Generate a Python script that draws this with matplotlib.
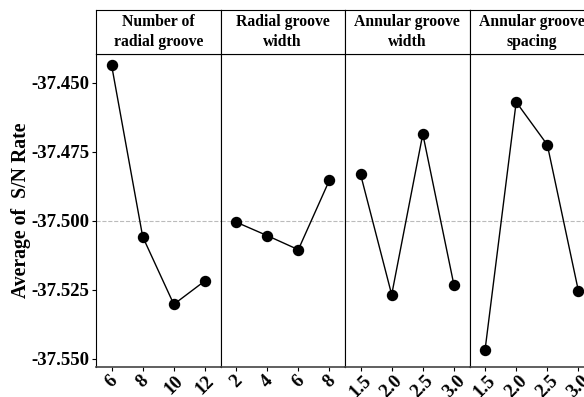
import numpy as np
import matplotlib.pyplot as plt

# main effects of S/N ratio, one panel per factor
factors = ["Number of\nradial groove", "Radial groove\nwidth",
           "Annular groove\nwidth", "Annular groove\nspacing"]
levels = [["6", "8", "10", "12"],
          ["2", "4", "6", "8"],
          ["1.5", "2.0", "2.5", "3.0"],
          ["1.5", "2.0", "2.5", "3.0"]]
sn_radial_num = [-37.4436, -37.5058, -37.5303, -37.5218]
sn_radial_width = [-37.5005, -37.5054, -37.5105, -37.4853]
sn_annular_width = [-37.4832, -37.5268, -37.4686, -37.5233]
sn_annular_spacing = [-37.5468, -37.4570, -37.4725, -37.5255]
series = [sn_radial_num, sn_radial_width, sn_annular_width, sn_annular_spacing]
mean_sn = -37.5
yticks = [-37.450, -37.475, -37.500, -37.525, -37.550]

plt.rcParams['font.family'] = ['Liberation Serif', 'DejaVu Serif']
plt.rcParams['font.weight'] = 'bold'

W, H = 584, 397
fig = plt.figure(figsize=(W / 100, H / 100), dpi=100)

left = 96 / W
pw = 124.5 / W
bot = (H - 366.7) / H
top = (H - 54) / H
hdr_top = (H - 10) / H

for i, (name, lv, vals) in enumerate(zip(factors, levels, series)):
    x0 = left + i * pw
    ax = fig.add_axes([x0, bot, pw, top - bot])
    hx = fig.add_axes([x0, top, pw, hdr_top - top])

    x = np.arange(len(lv))
    ax.axhline(mean_sn, color='#bbbbbb', lw=0.8, ls='--', zorder=1)
    ax.plot(x, vals, color='black', lw=1.0, marker='o', ms=7.2, zorder=3)
    ax.set_xlim(-0.5, len(lv) - 0.5)
    ax.set_ylim(-37.5529, -37.4396)
    ax.set_xticks(x)
    ax.set_xticklabels(lv, rotation=45, ha='center', fontsize=13.5, fontweight='bold')
    ax.tick_params(axis='x', length=3, width=0.8, pad=1)
    for s in ax.spines.values():
        s.set_linewidth(0.8)
        s.set_color('black')
    ax.spines['bottom'].set_color('#444444')
    ax.spines['bottom'].set_linewidth(1.2)
    if i == 0:
        ax.set_yticks(yticks)
        ax.set_yticklabels([f"{v:.3f}" for v in yticks], fontsize=13.5, fontweight='bold')
        ax.tick_params(axis='y', length=3, width=0.8, pad=2)
        ax.set_ylabel("Average of  S/N Rate", fontsize=14.2, fontweight='bold')
        ax.yaxis.set_label_coords(-0.52, 0.5)
    else:
        ax.set_yticks([])

    hx.set_xticks([])
    hx.set_yticks([])
    for s in hx.spines.values():
        s.set_linewidth(0.8)
    hx.text(0.5, 0.5, name, ha='center', va='center', fontsize=11.3,
            fontweight='bold', linespacing=1.25, transform=hx.transAxes)

fig.savefig("out.png", dpi=100)
